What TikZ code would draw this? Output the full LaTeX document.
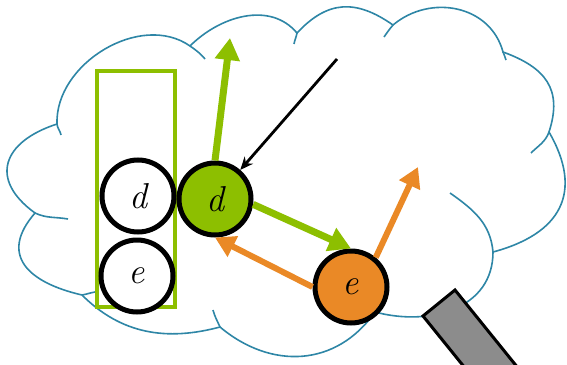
\documentclass[tikz,border=0pt]{standalone}
\usepackage{fontspec}
\usepackage{xcolor}
\usepackage{tikz}
\usetikzlibrary{arrows.meta}

\definecolor{limeg}{RGB}{141,191,0}
\definecolor{oran}{RGB}{234,137,38}
\definecolor{cloudblue}{RGB}{46,134,166}
\definecolor{handle}{RGB}{140,140,140}

\begin{document}
\begin{tikzpicture}[
    x=1pt, y=1pt,
    cloudline/.style={draw=cloudblue, line width=1.6pt},
    stack/.style={draw=limeg, line width=4pt, minimum width=78pt, minimum height=236pt, inner sep=0pt},
    agent/.style={circle, draw=black, fill=white, line width=5pt, minimum size=72pt,
        inner sep=0pt, font=\fontsize{36}{40}\selectfont\itshape},
    garr/.style={-{Triangle[width=24pt,length=22pt]}, line width=7pt, draw=limeg},
    oarr/.style={-{Triangle[width=22pt,length=20pt]}, line width=6pt, draw=oran},
    karr/.style={-{Stealth[length=13pt,width=11pt]}, line width=2.8pt, black}
]
\useasboundingbox (0,0) rectangle (567,-364);
\clip (0,0) rectangle (567,-364);

% ---------------- Cloud ----------------
\draw[cloudline, fill=white]
    (57,-124) to[out=92,in=145,looseness=1.0] (190,-46)
    to[out=45,in=130,looseness=1.0] (297,-33)
    to[out=47,in=145,looseness=1.2] (393,-25)
    to[out=40,in=105,looseness=1.1] (503,-52)
    to[out=-20,in=72,looseness=1.25] (549,-132)
    to[out=-60,in=15,looseness=1.35] (493,-252)
    to[out=-90,in=-15,looseness=1.1] (375,-312)
    to[out=-125,in=-40,looseness=1.1] (220,-327)
    to[out=195,in=-45,looseness=1.0] (82,-295)
    to[out=167,in=-131,looseness=1.5] (35,-213)
    to[out=144,in=198,looseness=1.6] (57,-124)
    -- cycle;
% inner arcs
\draw[cloudline] (57,-124) to[out=-85,in=100] (61,-135);
\draw[cloudline] (190,-46) to[out=-35,in=130] (205,-59);
\draw[cloudline] (297,-33) to[out=-100,in=80] (294,-44);
\draw[cloudline] (393,-25) to[out=-130,in=55] (384,-37);
\draw[cloudline] (503,-52) to[out=-75,in=100] (506,-60);
\draw[cloudline] (549,-132) to[out=-110,in=45] (531,-153);
\draw[cloudline] (450,-193) to[out=-35,in=95] (493,-252);
\draw[cloudline] (220,-327) to[out=114,in=-75] (213,-310);
\draw[cloudline] (82,-295) to[out=10,in=190] (95,-292);
\draw[cloudline] (35,-213) to[out=-25,in=170] (68,-219);

% ---------------- Agents ----------------
\node[stack] (queue) at (136,-189) {};
\node[agent] (wd) at (138,-196) {d};
\node[agent] (we) at (137,-276) {e};
\node[agent, fill=limeg] (gd) at (215,-199) {d};
\node[agent, fill=oran] (oe) at (351,-287) {e};

\coordinate (gtip) at (230,-38);
\coordinate (otip) at (418,-167);
\coordinate (kstart) at (337,-59);

\draw[garr] (gd.north) -- (gtip);
\draw[garr] (gd.-8) -- (oe.north);
\draw[oarr] (oe.west) -- (gd.south);
\draw[oarr] (oe.50) -- (otip);
\draw[karr] (kstart) -- (gd.49);

% ---------------- Handle ----------------
\filldraw[fill=handle, draw=black, line width=3pt]
    (423,-316) -- (455,-290) -- (535,-389) -- (503,-415) -- cycle;

\end{tikzpicture}
\end{document}
